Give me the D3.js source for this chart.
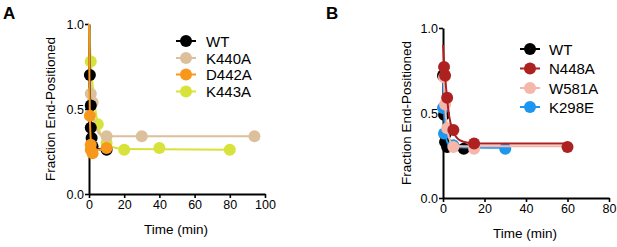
<!DOCTYPE html>
<html>
<head>
<meta charset="utf-8">
<script src="https://cdn.jsdelivr.net/npm/d3@7"></script>
<style>
  body { margin: 0; background: #fff; }
  svg { font-family: "Liberation Sans", Arial, sans-serif; }
</style>
</head>
<body>
<svg id="chart" width="617" height="247"></svg>
<script>
// ---- data ([time, fraction]) ----
const namesA = ["WT", "K440A", "D442A", "K443A"];
const colorsA = ["#000000", "#dcc09c", "#f7981d", "#d7e23a"];
const wtA = [[0.5, 0.70], [1, 0.52], [1, 0.39], [1.5, 0.33], [2, 0.28], [10, 0.26]];
const wtAFit = [[0, 1.0], [0.5, 0.62], [1, 0.44], [2, 0.32], [3, 0.28], [5, 0.265], [10, 0.26]];
const k440a = [[1, 0.59], [2, 0.54], [10, 0.34], [30, 0.34], [94, 0.34]];
const k440aFit = [[0, 1.0], [1, 0.64], [2, 0.50], [4, 0.39], [7, 0.345], [10, 0.34], [94, 0.34]];
const d442a = [[0.5, 0.46], [1, 0.29], [1, 0.26], [2, 0.24], [10, 0.27]];
const d442aFit = [[0, 1.0], [0.3, 0.62], [0.7, 0.38], [1.5, 0.28], [3, 0.26], [10, 0.26]];
const k443a = [[1, 0.78], [5, 0.41], [10, 0.30], [20, 0.26], [40, 0.27], [80, 0.26]];
const k443aFit = [[0, 1.0], [1, 0.78], [3, 0.55], [5, 0.41], [8, 0.32], [12, 0.28], [20, 0.265], [80, 0.26]];

const namesB = ["WT", "N448A", "W581A", "K298E"];
const colorsB = ["#000000", "#ad2121", "#f5b7aa", "#1c96ee"];
const wtB = [[0, 0.72], [0.5, 0.49], [1, 0.37], [1, 0.33], [2, 0.30], [10, 0.29]];
const wtBFit = [[0, 0.75], [0.5, 0.50], [1, 0.38], [2, 0.31], [4, 0.295], [10, 0.29]];
const n448a = [[0.5, 0.77], [1, 0.72], [2, 0.59], [5, 0.40], [15, 0.32], [60, 0.30]];
const n448aFit = [[0, 0.90], [0.5, 0.80], [1, 0.72], [2, 0.58], [3, 0.48], [5, 0.39], [8, 0.34], [12, 0.325], [20, 0.32], [60, 0.32]];
const w581a = [[0.5, 0.71], [1, 0.55], [2, 0.41], [5, 0.30], [15, 0.29]];
const w581aFit = [[0, 0.90], [0.5, 0.68], [1, 0.55], [2, 0.41], [3, 0.35], [5, 0.31], [10, 0.305], [60, 0.305]];
const k298e = [[0, 0.53], [0.5, 0.38], [5, 0.31], [15, 0.30], [30, 0.29]];
const k298eFit = [[0, 0.72], [0.5, 0.52], [1, 0.40], [2, 0.33], [4, 0.30], [30, 0.295]];

const yTicks = [0, 0.5, 1.0];
const xTicksA = [0, 20, 40, 60, 80, 100];
const xTicksB = [0, 20, 40, 60, 80];

const svg = d3.select("#chart");

function panel(opt) {
    const x = d3.scaleLinear().domain(opt.xDomain).range(opt.xRange);
    const y = d3.scaleLinear().domain([0, 1]).range(opt.yRange);
    const g = svg.append("g");

    // panel letter
    g.append("text")
        .attr("x", opt.letterX).attr("y", 19)
        .attr("font-size", 17).attr("font-weight", "bold")
        .text(opt.letter);

    // axes
    const xAxis = g.append("g")
        .attr("transform", `translate(0,${opt.yRange[0]})`)
        .call(d3.axisBottom(x).tickValues(opt.xTicks).tickSize(4).tickPadding(2).tickSizeOuter(0));
    const yAxis = g.append("g")
        .attr("transform", `translate(${opt.xRange[0]},0)`)
        .call(d3.axisLeft(y).tickValues(yTicks).tickFormat(d3.format(".1f")).tickSize(4).tickPadding(1).tickSizeOuter(0));
    [xAxis, yAxis].forEach(a => {
        a.select(".domain").attr("stroke", "#000").attr("stroke-width", 2);
        a.selectAll(".tick line").attr("stroke", "#000").attr("stroke-width", 1.6);
        a.selectAll(".tick text").attr("font-size", 12.5).attr("fill", "#000")
            .attr("font-family", "Liberation Sans, Arial, sans-serif");
    });

    g.append("text")
        .attr("x", (opt.xRange[0] + opt.xRange[1]) / 2 - 1)
        .attr("y", opt.yRange[0] + 40)
        .attr("text-anchor", "middle").attr("font-size", 13.5)
        .text("Time (min)");
    g.append("text")
        .attr("transform", `translate(${opt.yLabelX},${(opt.yRange[0] + opt.yRange[1]) / 2}) rotate(-90)`)
        .attr("text-anchor", "middle").attr("font-size", 13.5)
        .text("Fraction End-Positioned");

    const line = d3.line().x(d => x(d[0])).y(d => y(d[1])).curve(d3.curveMonotoneX);

    opt.order.forEach(i => {
        const s = opt.series[i];
        g.append("path")
            .datum(s.fit)
            .attr("d", line)
            .attr("fill", "none")
            .attr("stroke", opt.colors[i])
            .attr("stroke-width", 2);
        g.append("g").selectAll("circle")
            .data(s.pts)
            .join("circle")
            .attr("cx", d => x(d[0]))
            .attr("cy", d => y(d[1]))
            .attr("r", 6)
            .attr("fill", opt.colors[i]);
    });

    // legend
    const leg = g.append("g");
    opt.names.forEach((n, i) => {
        const ly = opt.legY[i];
        leg.append("line")
            .attr("x1", opt.legX - 10).attr("x2", opt.legX + 10)
            .attr("y1", ly).attr("y2", ly)
            .attr("stroke", opt.colors[i]).attr("stroke-width", 2);
        leg.append("circle")
            .attr("cx", opt.legX).attr("cy", ly).attr("r", 6)
            .attr("fill", opt.colors[i]);
        leg.append("text")
            .attr("x", opt.legX + opt.legTextDx).attr("y", ly + 5.5)
            .attr("font-size", 15)
            .text(n);
    });
}

panel({
    letter: "A", letterX: 3,
    xDomain: [0, 100], xRange: [89, 265], yRange: [194, 24],
    xTicks: xTicksA, yLabelX: 55,
    names: namesA, colors: colorsA,
    series: [{ pts: wtA, fit: wtAFit }, { pts: k440a, fit: k440aFit },
             { pts: d442a, fit: d442aFit }, { pts: k443a, fit: k443aFit }],
    order: [3, 1, 0, 2],
    legX: 186, legTextDx: 20, legY: [41, 58, 74.5, 91.5]
});

panel({
    letter: "B", letterX: 326,
    xDomain: [0, 80], xRange: [443, 609], yRange: [198, 28],
    xTicks: xTicksB, yLabelX: 411,
    names: namesB, colors: colorsB,
    series: [{ pts: wtB, fit: wtBFit }, { pts: n448a, fit: n448aFit },
             { pts: w581a, fit: w581aFit }, { pts: k298e, fit: k298eFit }],
    order: [0, 3, 2, 1],
    legX: 530, legTextDx: 19, legY: [49, 68.5, 88, 107]
});
</script>
</body>
</html>
